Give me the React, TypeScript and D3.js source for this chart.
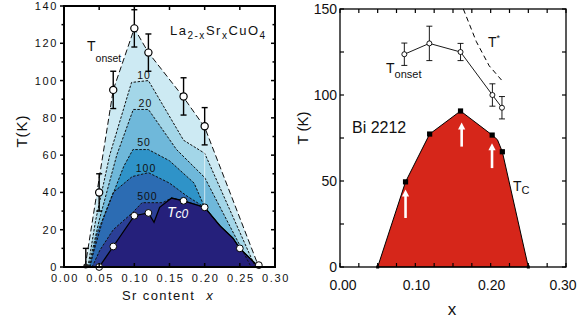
import React from 'react';
import * as d3 from 'd3';

type Pt = [number, number];

// ---- Left panel: La2-xSrxCuO4 ----
const onsetX = [0.05, 0.07, 0.10, 0.12, 0.17, 0.20];
const onsetT = [40, 95, 128, 115, 91.5, 75.5];
const onsetErr = [10, 10, 10, 10, 10, 10];

const tc0X = [0.05, 0.07, 0.10, 0.12, 0.17, 0.20, 0.25, 0.277];
const tc0T = [0, 11, 27.5, 29, 35.5, 32, 10, 1];

const tc0Line: Pt[] = [
  [0.05, 0], [0.07, 11], [0.10, 27.5], [0.12, 29], [0.128, 24], [0.136, 32],
  [0.153, 37], [0.17, 35.5], [0.20, 32], [0.222, 22], [0.24, 15.6], [0.25, 10], [0.277, 0],
];
const tc0Right = tc0Line.slice(8);

const edgeOnset: Pt[] = [[0.03, 0], [0.07, 95], [0.10, 128], [0.12, 115], [0.17, 91], [0.20, 75], [0.277, 0]];
const edge10: Pt[] = [[0.034, 0], [0.045, 25], [0.065, 60], [0.096, 99], [0.12, 100], [0.17, 68], [0.20, 61], [0.272, 0]];
const edge20: Pt[] = [[0.035, 0], [0.05, 25], [0.075, 60], [0.0985, 84.5], [0.12, 84.5], [0.16, 63], [0.20, 48], [0.266, 0]];
const edge50: Pt[] = [[0.036, 0], [0.055, 25], [0.085, 54], [0.098, 63], [0.12, 63], [0.15, 57], [0.185, 45], ...tc0Right];
const edge100: Pt[] = [[0.037, 0], [0.047, 18], [0.07, 40], [0.097, 48.5], [0.12, 50.6], [0.15, 45], [0.175, 38], ...tc0Right];
const edge500: Pt[] = [[0.04, 0], [0.051, 9], [0.07, 20], [0.097, 29], [0.111, 34.5], [0.14, 34.5], ...tc0Line.slice(6)];

const layers = [
  { pts: edgeOnset, fill: '#cdeaf3', dash: '6,3' },
  { pts: edge10, fill: '#a3d6e8', dash: '2.5,1.5' },
  { pts: edge20, fill: '#6fb8da', dash: '2.5,1.5' },
  { pts: edge50, fill: '#2f93c8', dash: '2.5,1.5' },
  { pts: edge100, fill: '#2c6cb3', dash: '2.5,1.5' },
  { pts: edge500, fill: '#2b3f96', dash: '2.5,1.5' },
  { pts: tc0Line, fill: '#25207b', dash: '' },
];

const contourLabels = ['10', '20', '50', '100', '500'];
const contourLabelX = [0.104, 0.106, 0.104, 0.102, 0.104];
const contourLabelT = [101, 86, 65, 51, 36];

// ---- Right panel: Bi 2212 ----
const tcX = [0.05, 0.087, 0.119, 0.16, 0.202, 0.2155, 0.25];
const tcT = [0, 49.5, 77.3, 90.7, 76.7, 67, 0];
const tcShape: Pt[] = [[0.05, 0], [0.087, 49.5], [0.119, 77.3], [0.16, 90.7], [0.202, 76.7], [0.209, 74], [0.2155, 67], [0.25, 0]];

const bOnsetX = [0.0854, 0.1186, 0.16, 0.2023, 0.215];
const bOnsetT = [123.7, 130, 125, 100, 92.6];
const bOnsetErr = [6.5, 10, 5, 6.5, 6.5];

const tStar: Pt[] = [[0.1637, 150], [0.181, 131], [0.198, 117], [0.2144, 108.7]];

const arrowX = [0.087, 0.1615, 0.2018];
const arrowFrom = [28.5, 70, 57.5];
const arrowTo = [45, 84, 72];

const leftXTicks = [0, 0.05, 0.1, 0.15, 0.2, 0.25, 0.3];
const leftYTicks = [0, 20, 40, 60, 80, 100, 120, 140];
const rightXTicks = [0, 0.1, 0.2, 0.3];
const rightYTicks = [0, 50, 100, 150];

const xL = d3.scaleLinear().domain([0, 0.3]).range([64, 275]);
const yL = d3.scaleLinear().domain([0, 140]).range([267, 6]);
const xR = d3.scaleLinear().domain([0, 0.3]).range([340, 566]);
const yR = d3.scaleLinear().domain([0, 150]).range([267, 9]);

const lineL = d3.line<Pt>().x(d => xL(d[0])).y(d => yL(d[1]));
const lineR = d3.line<Pt>().x(d => xR(d[0])).y(d => yR(d[1]));

const font = 'Liberation Sans, Arial, Helvetica, sans-serif';

export default function App() {
  const minorL = d3.range(0, 141, 10);
  const xMinorL = d3.range(0, 0.3001, 0.05);
  const xMinorR = d3.range(0, 0.3001, 0.025);
  const yMinorR = d3.range(0, 151, 25);

  return (
    <svg width={581} height={324} style={{ position: 'absolute', left: 0, top: 0, background: '#fff' }} fontFamily={font}>
      {/* ===== Left panel ===== */}
      {layers.map((l, i) => (
        <path key={'f' + i} d={lineL(l.pts)! + 'Z'} fill={l.fill} />
      ))}
      {layers.slice(0, 6).map((l, i) => (
        <path key={'c' + i} d={lineL(l.pts)!} fill="none" stroke="#111" strokeWidth={1} strokeDasharray={l.dash} />
      ))}
      <line x1={xL(0.2)} x2={xL(0.2)} y1={yL(32)} y2={yL(62)} stroke="#fff" strokeWidth={0.8} opacity={0.8} />
      <path d={lineL(tc0Line)!} fill="none" stroke="#000" strokeWidth={1.3} />

      {contourLabels.map((s, i) => (
        <text key={s} x={xL(contourLabelX[i])} y={yL(contourLabelT[i])} fontSize={10.5} letterSpacing={1}
          fill="#111">{s}</text>
      ))}

      {/* error bars onset */}
      <g stroke="#000" strokeWidth={1.4}>
        <line x1={xL(0.031)} x2={xL(0.031)} y1={yL(0)} y2={yL(10)} />
        <line x1={xL(0.031) - 3} x2={xL(0.031) + 3} y1={yL(10)} y2={yL(10)} />
        {onsetX.map((x, i) => (
          <g key={i}>
            <line x1={xL(x)} x2={xL(x)} y1={yL(onsetT[i] - onsetErr[i])} y2={yL(onsetT[i] + onsetErr[i])} />
            <line x1={xL(x) - 3} x2={xL(x) + 3} y1={yL(onsetT[i] - onsetErr[i])} y2={yL(onsetT[i] - onsetErr[i])} />
            <line x1={xL(x) - 3} x2={xL(x) + 3} y1={yL(onsetT[i] + onsetErr[i])} y2={yL(onsetT[i] + onsetErr[i])} />
          </g>
        ))}
      </g>
      <circle cx={xL(0.031)} cy={yL(0.5)} r={2.5} fill="#222" />
      {onsetX.map((x, i) => (
        <circle key={i} cx={xL(x)} cy={yL(onsetT[i])} r={3.6} fill="#fff" stroke="#000" strokeWidth={1.2} />
      ))}
      {tc0X.map((x, i) => (
        <circle key={i} cx={xL(x)} cy={yL(tc0T[i])} r={3.4} fill="#fff" stroke="#000" strokeWidth={1} />
      ))}

      {/* left frame & ticks */}
      <rect x={xL(0)} y={yL(140)} width={xL(0.3) - xL(0)} height={yL(0) - yL(140)} fill="none" stroke="#000" strokeWidth={2} />
      {minorL.map(t => (
        <g key={t}>
          <line x1={xL(0) - (t % 20 === 0 ? 4 : 2.5)} x2={xL(0)} y1={yL(t)} y2={yL(t)} stroke="#000" strokeWidth={1.5} />
          <line x1={xL(0.3) - (t % 20 === 0 ? 4 : 2.5)} x2={xL(0.3)} y1={yL(t)} y2={yL(t)} stroke="#000" strokeWidth={1.5} />
        </g>
      ))}
      {xMinorL.map(v => (
        <g key={v}>
          <line x1={xL(v)} x2={xL(v)} y1={yL(140)} y2={yL(140) + 4} stroke="#000" strokeWidth={1.5} />
          <line x1={xL(v)} x2={xL(v)} y1={yL(0)} y2={yL(0) - 4} stroke="#000" strokeWidth={1.5} />
        </g>
      ))}
      {leftYTicks.map(t => (
        <text key={t} x={58} y={yL(t) + 4} fontSize={11} letterSpacing={1.6} textAnchor="end" fill="#111">{t}</text>
      ))}
      {leftXTicks.map(v => (
        <text key={v} x={xL(v) + 1} y={282} fontSize={11} letterSpacing={1.6} textAnchor="middle" fill="#111">{v.toFixed(2)}</text>
      ))}
      <text x={122} y={300} fontSize={13} letterSpacing={1.4} fill="#111">Sr content <tspan fontStyle="italic" dx={6}>x</tspan></text>
      <text transform="translate(27,131) rotate(-90)" fontSize={15} letterSpacing={1} textAnchor="middle" fill="#111">T(K)</text>

      <text x={170} y={35} fontSize={13} letterSpacing={1.5} fill="#111">
        La<tspan fontSize={10} dy={4}>2-x</tspan><tspan dy={-4}>Sr</tspan><tspan fontSize={10} dy={4}>x</tspan><tspan dy={-4}>CuO</tspan><tspan fontSize={10} dy={4}>4</tspan>
      </text>
      <text x={87} y={51} fontSize={14} fill="#111">T<tspan fontSize={10.5} dy={11}>onset</tspan></text>
      <text x={167} y={217} fontSize={14} fontStyle="italic" fill="#fff">T<tspan fontSize={12} dy={1}>c0</tspan></text>

      {/* ===== Right panel ===== */}
      <path d={lineR(tcShape)! + 'Z'} fill="#d6261a" stroke="#000" strokeWidth={1} />
      {tcX.map((x, i) => (
        <rect key={i} x={xR(x) - (tcT[i] === 0 ? 1.5 : 2.6)} y={yR(tcT[i]) - (tcT[i] === 0 ? 1.5 : 2.6)}
          width={tcT[i] === 0 ? 3 : 5.2} height={tcT[i] === 0 ? 3 : 5.2} fill="#000" />
      ))}
      {arrowX.map((x, i) => (
        <g key={i}>
          <line x1={xR(x)} x2={xR(x)} y1={yR(arrowFrom[i])} y2={yR(arrowTo[i]) + 5} stroke="#fff" strokeWidth={2.6} />
          <path d={`M${xR(x)},${yR(arrowTo[i])} l-3.6,7 l7.2,0 Z`} fill="#fff" />
        </g>
      ))}

      <path d={lineR(bOnsetX.map((x, i) => [x, bOnsetT[i]] as Pt))!} fill="none" stroke="#000" strokeWidth={0.9} />
      <g stroke="#000" strokeWidth={0.9}>
        {bOnsetX.map((x, i) => (
          <g key={i}>
            <line x1={xR(x)} x2={xR(x)} y1={yR(bOnsetT[i] - bOnsetErr[i])} y2={yR(bOnsetT[i] + bOnsetErr[i])} />
            <line x1={xR(x) - 3} x2={xR(x) + 3} y1={yR(bOnsetT[i] - bOnsetErr[i])} y2={yR(bOnsetT[i] - bOnsetErr[i])} />
            <line x1={xR(x) - 3} x2={xR(x) + 3} y1={yR(bOnsetT[i] + bOnsetErr[i])} y2={yR(bOnsetT[i] + bOnsetErr[i])} />
          </g>
        ))}
      </g>
      {bOnsetX.map((x, i) => (
        <circle key={i} cx={xR(x)} cy={yR(bOnsetT[i])} r={2.5} fill="#fff" stroke="#000" strokeWidth={0.9} />
      ))}
      <path d={lineR(tStar)!} fill="none" stroke="#000" strokeWidth={1} strokeDasharray="5,3.5" />

      <rect x={xR(0)} y={yR(150)} width={xR(0.3) - xR(0)} height={yR(0) - yR(150)} fill="none" stroke="#000" strokeWidth={1.3} />
      {xMinorR.map(v => (
        <g key={v}>
          <line x1={xR(v)} x2={xR(v)} y1={yR(0)} y2={yR(0) - 4} stroke="#000" strokeWidth={1.2} />
          <line x1={xR(v)} x2={xR(v)} y1={yR(150)} y2={yR(150) + 4} stroke="#000" strokeWidth={1.2} />
        </g>
      ))}
      {yMinorR.map(t => (
        <g key={t}>
          <line x1={xR(0)} x2={xR(0) + 4} y1={yR(t)} y2={yR(t)} stroke="#000" strokeWidth={1.2} />
          <line x1={xR(0.3) - 4} x2={xR(0.3)} y1={yR(t)} y2={yR(t)} stroke="#000" strokeWidth={1.2} />
        </g>
      ))}
      {rightYTicks.map(t => (
        <text key={t} x={337} y={yR(t) + 5} fontSize={14} textAnchor="end" fill="#111">{t}</text>
      ))}
      {rightXTicks.map(v => (
        <text key={v} x={xR(v) + (v === 0 ? 3 : v === 0.3 ? -3 : 1)} y={290} fontSize={14} textAnchor="middle" fill="#111">{v.toFixed(2)}</text>
      ))}
      <text x={452} y={315} fontSize={17} textAnchor="middle" fill="#111">x</text>
      <text transform="translate(308,128) rotate(-90)" fontSize={15} textAnchor="middle" fill="#111">T (K)</text>

      <text x={352} y={133} fontSize={16} fill="#111">Bi 2212</text>
      <text x={488} y={47} fontSize={14} fill="#111">T<tspan fontSize={9} dy={-6}>*</tspan></text>
      <text x={386} y={73} fontSize={14} fill="#111">T<tspan fontSize={11} dy={5}>onset</tspan></text>
      <text x={513} y={191} fontSize={14} fill="#111">T<tspan fontSize={11} dy={3}>C</tspan></text>
    </svg>
  );
}
